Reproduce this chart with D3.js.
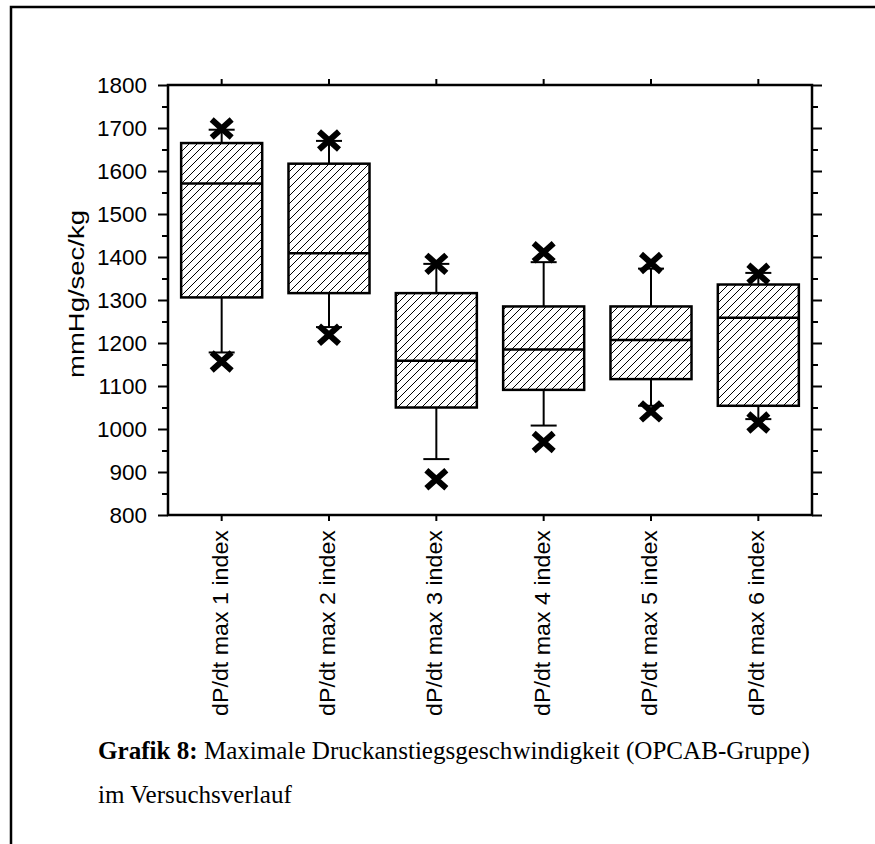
<!DOCTYPE html>
<html>
<head>
<meta charset="utf-8">
<script src="https://cdn.jsdelivr.net/npm/d3@7"></script>
<style>
  body { margin: 0; background: #fff; overflow: hidden; }
  svg { display: block; }
</style>
</head>
<body>
<div id="wrapper"></div>
<script>
const categories = ["dP/dt max 1 index", "dP/dt max 2 index", "dP/dt max 3 index", "dP/dt max 4 index", "dP/dt max 5 index", "dP/dt max 6 index"]
const q1 = [1306, 1316, 1050, 1091, 1116, 1054]
const median = [1571, 1409, 1159, 1185, 1207, 1259]
const q3 = [1665, 1617, 1316, 1285, 1285, 1336]
const whiskerLow = [1178, 1237, 930, 1008, 1054, 1023]
const whiskerHigh = [1696, 1670, 1384, 1388, 1373, 1363]
const extremeLow = [1157, 1219, 883, 970, 1041, 1015]
const extremeHigh = [1699, 1671, 1384, 1411, 1386, 1361]
const yTicks = [800, 900, 1000, 1100, 1200, 1300, 1400, 1500, 1600, 1700, 1800]
const yTitle = "mmHg/sec/kg"
const captionBold = "Grafik 8:"
const captionLine1 = " Maximale Druckanstiegsgeschwindigkeit (OPCAB-Gruppe)"
const captionLine2 = "im Versuchsverlauf"

const data = categories.map((c, i) => ({
  name: c, q1: q1[i], median: median[i], q3: q3[i],
  lo: whiskerLow[i], hi: whiskerHigh[i], min: extremeLow[i], max: extremeHigh[i]
}))

const dimensions = {
  width: 875,
  height: 844,
  margin: { top: 85, right: 63, bottom: 329, left: 168 }
}
dimensions.boundedWidth = dimensions.width - dimensions.margin.left - dimensions.margin.right
dimensions.boundedHeight = dimensions.height - dimensions.margin.top - dimensions.margin.bottom

const xScale = d3.scaleBand()
  .domain(categories)
  .range([0, dimensions.boundedWidth])
const yScale = d3.scaleLinear()
  .domain([800, 1800])
  .range([dimensions.boundedHeight, 0])

const boxWidth = xScale.bandwidth() * 0.755
const capWidth = 26
const cx = d => xScale(d.name) + xScale.bandwidth() / 2

const wrapper = d3.select("#wrapper")
  .append("svg")
    .attr("width", dimensions.width)
    .attr("height", dimensions.height)

// hatch pattern
wrapper.append("defs").append("pattern")
    .attr("id", "hatch")
    .attr("patternUnits", "userSpaceOnUse")
    .attr("width", 8)
    .attr("height", 8)
  .append("path")
    .attr("d", "M-2,2 L2,-2 M0,8 L8,0 M6,10 L10,6")
    .attr("stroke", "#000")
    .attr("stroke-width", 1)

// page frame (top and left rule)
wrapper.append("path")
  .attr("d", "M11,844 L11,7 L875,7")
  .attr("fill", "none")
  .attr("stroke", "#000")
  .attr("stroke-width", 2.5)

const bounds = wrapper.append("g")
  .attr("transform", `translate(${dimensions.margin.left},${dimensions.margin.top})`)

// axes
const minorTicks = d3.range(850, 1800, 100)
const leftAxis = d3.axisLeft(yScale).tickValues(yTicks).tickSize(10).tickFormat("")
const leftMinor = d3.axisLeft(yScale).tickValues(minorTicks).tickSize(6).tickFormat("")
const rightAxis = d3.axisRight(yScale).tickValues(yTicks).tickSize(10).tickFormat("")
const rightMinor = d3.axisRight(yScale).tickValues(minorTicks).tickSize(6).tickFormat("")
const topAxis = d3.axisTop(xScale).tickSize(6).tickFormat("")
const bottomAxis = d3.axisBottom(xScale).tickSize(6).tickFormat("")

const axisStyle = g => {
  g.select(".domain").remove()
  g.selectAll("line").attr("stroke", "#000").attr("stroke-width", 2)
}
bounds.append("g").call(leftAxis).call(axisStyle)
bounds.append("g").call(leftMinor).call(axisStyle)
bounds.append("g").attr("transform", `translate(${dimensions.boundedWidth},0)`).call(rightAxis).call(axisStyle)
bounds.append("g").attr("transform", `translate(${dimensions.boundedWidth},0)`).call(rightMinor).call(axisStyle)
bounds.append("g").call(topAxis).call(axisStyle)
bounds.append("g").attr("transform", `translate(0,${dimensions.boundedHeight})`).call(bottomAxis).call(axisStyle)

bounds.append("rect")
  .attr("width", dimensions.boundedWidth)
  .attr("height", dimensions.boundedHeight)
  .attr("fill", "none")
  .attr("stroke", "#000")
  .attr("stroke-width", 2.5)

// y tick labels
bounds.append("g").selectAll("text")
  .data(yTicks)
  .enter().append("text")
    .attr("x", -21)
    .attr("y", d => yScale(d))
    .attr("dy", "0.36em")
    .attr("text-anchor", "end")
    .style("font-family", "'Liberation Sans', Arial, sans-serif")
    .style("font-size", "22.5px")
    .text(d => d)

// y title
bounds.append("text")
  .attr("transform", `translate(${84 - dimensions.margin.left},${294 - dimensions.margin.top}) rotate(-90)`)
  .attr("text-anchor", "middle")
  .attr("textLength", 168)
  .attr("lengthAdjust", "spacingAndGlyphs")
  .style("font-family", "'Liberation Sans', Arial, sans-serif")
  .style("font-size", "21.5px")
  .text(yTitle)

// category labels
bounds.append("g").selectAll("text")
  .data(data)
  .enter().append("text")
    .attr("transform", d => `translate(${cx(d) + 6},${dimensions.boundedHeight + 15}) rotate(-90)`)
    .attr("text-anchor", "end")
    .attr("textLength", 186)
    .attr("lengthAdjust", "spacingAndGlyphs")
    .style("font-family", "'Liberation Sans', Arial, sans-serif")
    .style("font-size", "21.5px")
    .text(d => d.name)

// boxes
const boxes = bounds.append("g").selectAll("g")
  .data(data)
  .enter().append("g")

// whiskers
boxes.append("line")
  .attr("x1", cx).attr("x2", cx)
  .attr("y1", d => yScale(d.q3)).attr("y2", d => yScale(d.hi))
  .attr("stroke", "#000").attr("stroke-width", 2)
boxes.append("line")
  .attr("x1", cx).attr("x2", cx)
  .attr("y1", d => yScale(d.q1)).attr("y2", d => yScale(d.lo))
  .attr("stroke", "#000").attr("stroke-width", 2)
boxes.append("line")
  .attr("x1", d => cx(d) - capWidth / 2).attr("x2", d => cx(d) + capWidth / 2)
  .attr("y1", d => yScale(d.hi)).attr("y2", d => yScale(d.hi))
  .attr("stroke", "#000").attr("stroke-width", 2)
boxes.append("line")
  .attr("x1", d => cx(d) - capWidth / 2).attr("x2", d => cx(d) + capWidth / 2)
  .attr("y1", d => yScale(d.lo)).attr("y2", d => yScale(d.lo))
  .attr("stroke", "#000").attr("stroke-width", 2)

boxes.append("rect")
  .attr("x", d => cx(d) - boxWidth / 2)
  .attr("y", d => yScale(d.q3))
  .attr("width", boxWidth)
  .attr("height", d => yScale(d.q1) - yScale(d.q3))
  .attr("fill", "#fff")
  .attr("stroke", "none")
boxes.append("rect")
  .attr("x", d => cx(d) - boxWidth / 2)
  .attr("y", d => yScale(d.q3))
  .attr("width", boxWidth)
  .attr("height", d => yScale(d.q1) - yScale(d.q3))
  .attr("fill", "url(#hatch)")
  .attr("stroke", "#000")
  .attr("stroke-width", 2.5)
boxes.append("line")
  .attr("x1", d => cx(d) - boxWidth / 2).attr("x2", d => cx(d) + boxWidth / 2)
  .attr("y1", d => yScale(d.median)).attr("y2", d => yScale(d.median))
  .attr("stroke", "#000").attr("stroke-width", 2.5)

// extreme values
const cross = "M-10,-9 L10,9 M-10,9 L10,-9"
boxes.append("path")
  .attr("transform", d => `translate(${cx(d)},${yScale(d.max)})`)
  .attr("d", cross)
  .attr("stroke", "#000").attr("stroke-width", 6)
boxes.append("path")
  .attr("transform", d => `translate(${cx(d)},${yScale(d.min)})`)
  .attr("d", cross)
  .attr("stroke", "#000").attr("stroke-width", 6)

// caption: fit the first line to the width it has in the picture
const caption = wrapper.append("g")
  .style("font-family", "'Liberation Serif', 'Times New Roman', serif")
  .style("font-size", "20px")
const line1 = caption.append("text")
  .attr("x", 98)
  .attr("y", 759)
line1.append("tspan").style("font-weight", "bold").text(captionBold)
line1.append("tspan").text(captionLine1)
const line2 = caption.append("text")
  .attr("x", 98)
  .attr("y", 803)
  .text(captionLine2)
const natural = line1.node().getComputedTextLength()
const captionSize = 20 * 712 / natural
caption.style("font-size", `${captionSize}px`)
</script>
</body>
</html>
